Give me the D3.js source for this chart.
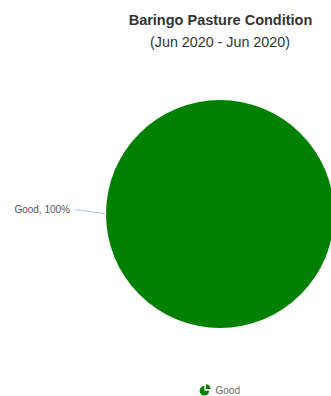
<!DOCTYPE html>
<html><head><meta charset="utf-8">
<script src="https://cdn.jsdelivr.net/npm/d3@7"></script>
<style>body{margin:0;background:#fff;overflow:hidden}svg{display:block}</style>
</head><body>
<svg id="c" width="331" height="396"></svg>
<script>
const categories = ["Good"];
const values = [100];
const colors = ["#008000"];
const title = "Baringo Pasture Condition";
const subtitle = "(Jun 2020 - Jun 2020)";

const svg = d3.select("#c");
const cx = 220, cy = 214, r = 114;
const FONT = "Liberation Sans, Arial, Helvetica, sans-serif";

svg.append("text").attr("x", 220.5).attr("y", 24.5).attr("text-anchor", "middle")
  .attr("font-family", FONT).attr("font-size", 14.5)
  .attr("font-weight", "bold").attr("fill", "#333").text(title);
svg.append("text").attr("x", 220).attr("y", 47).attr("text-anchor", "middle")
  .attr("font-family", FONT).attr("font-size", 14.3)
  .attr("fill", "#333").text(subtitle);

const pie = d3.pie().sort(null).value(d => d.v);
const data = categories.map((c, i) => ({c, v: values[i]}));
const arcs = pie(data);
const arc = d3.arc().innerRadius(0).outerRadius(r);
const color = d3.scaleOrdinal().domain(categories).range(colors);
const total = d3.sum(values);

const g = svg.append("g").attr("transform", `translate(${cx},${cy})`);
g.selectAll("path").data(arcs).enter().append("path")
  .attr("d", arc).attr("fill", d => color(d.data.c));

arcs.forEach(d => {
  const pct = Math.round(d.data.v / total * 100);
  const lx = 75 - cx, ly = 209.5 - cy;
  g.append("path").attr("d", `M${lx},${ly} L${-r + 1},${0}`)
    .attr("stroke", "#9ec3d0").attr("stroke-width", 0.9).attr("fill", "none");
  g.append("text").attr("x", lx - 5).attr("y", ly + 3.5).attr("text-anchor", "end")
    .attr("font-family", FONT).attr("font-size", 10)
    .attr("fill", "#555").text(`${d.data.c}, ${pct}%`);
});

// legend
const lg = svg.append("g").attr("transform", "translate(205,390)");
const iconArc = d3.arc().innerRadius(0).outerRadius(4.8);
lg.append("path").attr("d", iconArc({startAngle: Math.PI / 2, endAngle: Math.PI * 2}))
  .attr("fill", colors[0]).attr("transform", "translate(-0.6,0.8)");
lg.append("path").attr("d", iconArc({startAngle: 0, endAngle: Math.PI / 2}))
  .attr("fill", colors[0]).attr("transform", "translate(0.9,-0.9)");
lg.append("text").attr("x", 10.5).attr("y", 4)
  .attr("font-family", FONT).attr("font-size", 10)
  .attr("fill", "#666").text(categories[0]);
</script>
</body></html>
